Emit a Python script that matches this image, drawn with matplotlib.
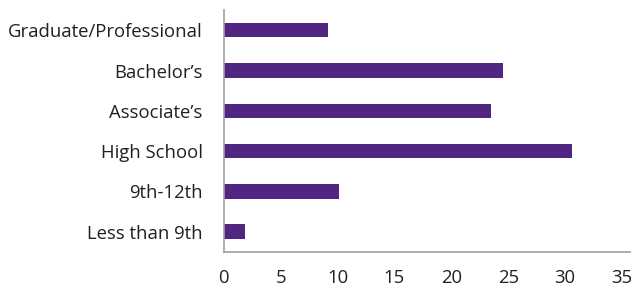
import numpy as np
import matplotlib.pyplot as plt

# Education levels, bottom to top
levels = ["Less than 9th", "9th-12th", "High School", "Associate\u2019s",
          "Bachelor\u2019s", "Graduate/Professional"]
values = [1.9, 10.1, 30.6, 23.5, 24.5, 9.2]
xticks = [0, 5, 10, 15, 20, 25, 30, 35]

plt.rcParams['font.family'] = ['Open Sans', 'DejaVu Sans']

fig = plt.figure(figsize=(6.34, 2.89), dpi=100)
ax = fig.add_axes([0.3528, 0.129, 0.641, 0.836])

y = np.arange(len(levels))
ax.barh(y, values, height=0.36, color="#512682")

ax.set_xlim(0, 35.7)
ax.set_ylim(-0.5, 5.5)
ax.set_xticks(xticks)
ax.set_yticks(y)
ax.set_yticklabels(levels)

for s in ["top", "right"]:
    ax.spines[s].set_visible(False)
for s in ["left", "bottom"]:
    ax.spines[s].set_color("#a0a0a0")
    ax.spines[s].set_linewidth(1.2)

ax.tick_params(axis="y", length=0, pad=15, labelsize=13.3, colors="#231f20")
ax.tick_params(axis="x", length=0, pad=12.5, labelsize=13.3, colors="#231f20")

fig.savefig("out.png", dpi=100)
